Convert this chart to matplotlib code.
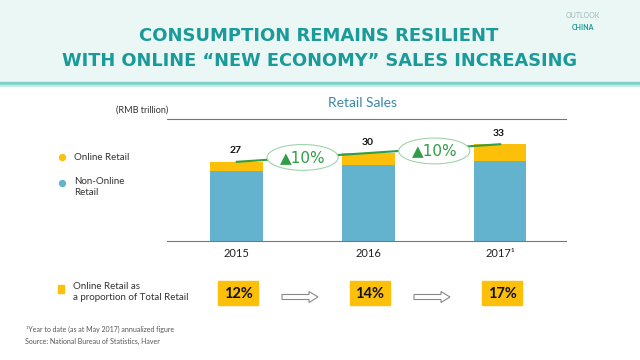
import matplotlib
matplotlib.use("Agg")
import matplotlib.pyplot as plt
from matplotlib.patches import Ellipse, Rectangle, FancyArrow
from matplotlib import font_manager

plt.rcParams['font.family'] = ['Lato', 'DejaVu Sans']

years = ["2015", "2016", "2017\u00b9"]
totals = [27, 30, 33]
online = [3.2, 4.2, 5.6]
non_online = [t - o for t, o in zip(totals, online)]
growth = ["10%", "10%"]
share = ["12%", "14%", "17%"]

YELLOW = "#fcbf0a"
BLUE = "#63b3cf"
TEAL = "#1a9a99"
GREEN = "#2f9e46"

names = {f.name for f in font_manager.fontManager.ttflist}
NARROW = ["Liberation Sans Narrow", "Lato"] if "Liberation Sans Narrow" in names else ["Lato"]

fig = plt.figure(figsize=(6.4, 3.6), dpi=100)
fig.patch.set_facecolor("white")

# overlay axes in pixel coords
ov = fig.add_axes([0, 0, 1, 1])
ov.set_xlim(0, 640)
ov.set_ylim(360, 0)
ov.axis("off")
ov.add_patch(Rectangle((0, 0), 640, 82, color="#eaf7f5", zorder=0))
ov.add_patch(Rectangle((0, 82), 640, 2.5, color="#7fd0c8", zorder=1))
ov.add_patch(Rectangle((0, 84.5), 640, 1.5, color="#c5ebe6", zorder=1))

ov.text(319, 36, "CONSUMPTION REMAINS RESILIENT", ha="center", va="center",
        color=TEAL, fontsize=13, fontweight="bold", family="DejaVu Sans")
ov.text(319, 61, "WITH ONLINE \u201cNEW ECONOMY\u201d SALES INCREASING", ha="center", va="center",
        color=TEAL, fontsize=12.8, fontweight="bold", family="DejaVu Sans")
ov.text(583, 16, "OUTLOOK", ha="center", va="center", color="#9bb8b6", fontsize=5)
ov.text(583, 28, "CHINA", ha="center", va="center", color=TEAL, fontsize=5, fontweight="bold")

ov.text(362, 103, "Retail Sales", ha="center", va="center", color="#3a88a8", fontsize=10)
ov.text(168, 110, "(RMB trillion)", ha="right", va="center", color="#333333", fontsize=6.5)

# legend
ov.scatter([62], [157], s=18, color=YELLOW, zorder=3)
ov.text(74, 157, "Online Retail", va="center", fontsize=7, color="#333333")
ov.scatter([62], [183], s=18, color=BLUE, zorder=3)
ov.text(74, 187, "Non-Online\nRetail", va="center", fontsize=7, color="#333333", linespacing=1.3)

# bottom row
ov.add_patch(Rectangle((58, 285), 6, 8, color=YELLOW))
ov.text(73, 292, "Online Retail as\na proportion of Total Retail", va="center", fontsize=7,
        color="#333333", linespacing=1.3)
box_x = [238, 370, 502]
for bx, s in zip(box_x, share):
    ov.add_patch(Rectangle((bx - 20, 281), 40, 24, color=YELLOW, zorder=2))
    ov.text(bx, 293.5, s, ha="center", va="center", fontsize=10.5, fontweight="bold",
            color="#111111", zorder=3)
for ax0 in [282, 414]:
    ov.add_patch(FancyArrow(ax0, 297, 36, 0, width=5, head_width=11, head_length=9,
                            length_includes_head=True, facecolor="white",
                            edgecolor="#888888", linewidth=0.8))

ov.text(26, 329, "\u00b9Year to date (as at May 2017) annualized figure", fontsize=5,
        color="#555555", va="center", family=NARROW)
ov.text(25, 341, "Source: National Bureau of Statistics, Haver", fontsize=5,
        color="#555555", va="center", family=NARROW)

# bar axes
L, R, T, B = 167, 566, 119, 241
ax = fig.add_axes([L / 640, 1 - B / 360, (R - L) / 640, (B - T) / 360])
ax.patch.set_alpha(0)
x = list(range(len(years)))
ax.bar(x, non_online, width=0.4, color=BLUE, zorder=2)
ax.bar(x, online, width=0.4, bottom=non_online, color=YELLOW, zorder=2)
ax.set_xlim(-0.53, 2.5)
ax.set_ylim(0, 41.6)
for sp in ["left", "right"]:
    ax.spines[sp].set_visible(False)
ax.spines["top"].set_color("#777777")
ax.spines["bottom"].set_color("#777777")
ax.spines["top"].set_linewidth(0.8)
ax.spines["bottom"].set_linewidth(0.8)
ax.set_yticks([])
ax.set_xticks(x)
ax.set_xticklabels(years, fontsize=8, color="#222222")
ax.tick_params(axis="x", length=0, pad=5)

for xi, t in zip(x, totals):
    ax.text(xi - 0.01, t + 2.2, f"{t}", ha="center", va="bottom", fontsize=7.5,
            fontweight="bold", color="#111111")

ax.plot(x, totals, color=GREEN, lw=1.5, zorder=3, clip_on=False)
for i, g in enumerate(growth):
    cx = i + 0.5
    cy = totals[i] + (totals[i + 1] - totals[i]) * 0.5 + (0.0 if i == 0 else -0.8)
    ax.add_patch(Ellipse((cx, cy), 0.54, 8.8, facecolor="white", edgecolor="#9fd4a8",
                         lw=0.8, zorder=4, clip_on=False))
    ax.text(cx, cy, "\u25b2" + g, ha="center", va="center", fontsize=11,
            color=GREEN, zorder=5, family=["DejaVu Sans"])

fig.savefig("out.png", dpi=100)
